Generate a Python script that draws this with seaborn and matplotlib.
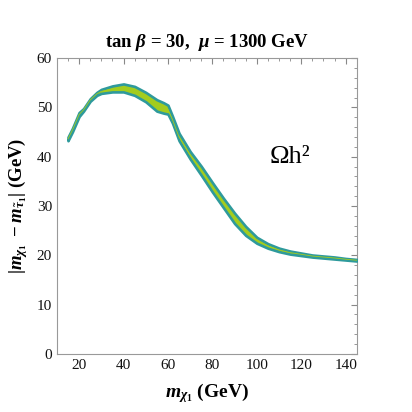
import numpy as np
import pandas as pd
import matplotlib
matplotlib.use("Agg")
import matplotlib.pyplot as plt
import seaborn as sns
from matplotlib.ticker import MultipleLocator

# band (outer edges)
m_chi = [15, 17, 20, 22, 25, 28, 30, 35, 40, 45, 50, 55, 58, 60, 62, 65, 70, 75,
         80, 85, 90, 95, 100, 105, 110, 115, 120, 125, 130, 135, 140, 145]
upper = [44.2, 46.0, 49.2, 50.0, 52.0, 53.3, 53.9, 54.6, 55.0, 54.5, 53.3, 51.8,
         51.2, 50.7, 48.5, 45.0, 41.3, 38.3, 35.0, 31.8, 28.8, 26.1, 23.9, 22.6,
         21.7, 21.1, 20.7, 20.3, 20.1, 19.9, 19.6, 19.4]
lower = [43.0, 44.8, 47.9, 49.0, 51.0, 52.2, 52.6, 52.9, 52.9, 52.2, 50.9, 49.0,
         48.6, 48.4, 46.6, 43.0, 39.3, 36.0, 32.6, 29.4, 26.2, 23.8, 22.2, 21.2,
         20.5, 20.0, 19.7, 19.4, 19.2, 19.0, 18.8, 18.6]

teal = "#2e9a9c"
green = "#a3cc1e"

sns.set_style("white")
plt.rcParams["font.family"] = ["Liberation Serif", "DejaVu Serif"]
plt.rcParams["mathtext.fontset"] = "custom"
plt.rcParams["mathtext.it"] = "Liberation Serif:italic:bold"
plt.rcParams["mathtext.rm"] = "Liberation Serif:bold"
plt.rcParams["mathtext.bf"] = "Liberation Serif:bold"
plt.rcParams["text.color"] = "black"
plt.rcParams["axes.labelcolor"] = "black"

df = pd.DataFrame({"m_chi": m_chi, "upper": upper, "lower": lower})
# shrink to the centre of the teal border
edge = 0.24
df["hi"] = df["upper"] - edge
df["lo"] = df["lower"] + edge
df["mid"] = (df["upper"] + df["lower"]) / 2

fig = plt.figure(figsize=(4.12, 4.12), dpi=100)
ax = fig.add_axes([0.138, 0.141, 0.728, 0.718])

ax.fill_between(df["m_chi"], df["lo"], df["hi"], facecolor=green,
                edgecolor=teal, linewidth=1.9, zorder=3)
sns.lineplot(data=df, x="m_chi", y="mid", ax=ax, color=green, linewidth=0.6,
             zorder=4)

ax.set_xlim(10, 145)
ax.set_ylim(0, 60)
ax.xaxis.set_major_locator(MultipleLocator(20))
ax.xaxis.set_minor_locator(MultipleLocator(5))
ax.yaxis.set_major_locator(MultipleLocator(10))
ax.yaxis.set_minor_locator(MultipleLocator(2))
ax.tick_params(which="both", direction="in", top=True, right=True,
               color="#888888", labelsize=11, labelcolor="#111111")
ax.tick_params(which="major", length=4, width=0.8)
ax.tick_params(which="minor", length=2, width=0.6)
for s in ax.spines.values():
    s.set_color("#999999")
    s.set_linewidth(0.8)

ax.set_title(r"tan $\beta$ = 30,  $\mu$ = 1300 GeV", fontsize=13.5,
             fontweight="bold", pad=8)
ax.set_xlabel(r"$m_{\chi_1}$ (GeV)", fontsize=14, fontweight="bold",
              labelpad=7)
ax.set_ylabel(r"$|m_{\chi_1}\ -m_{\tilde{\tau}_1}|$ (GeV)", fontsize=13.5,
              fontweight="bold", labelpad=5)
ax.text(115, 40, "Ωh²", fontsize=19, ha="center", va="center")

fig.savefig("out.png", dpi=100)
